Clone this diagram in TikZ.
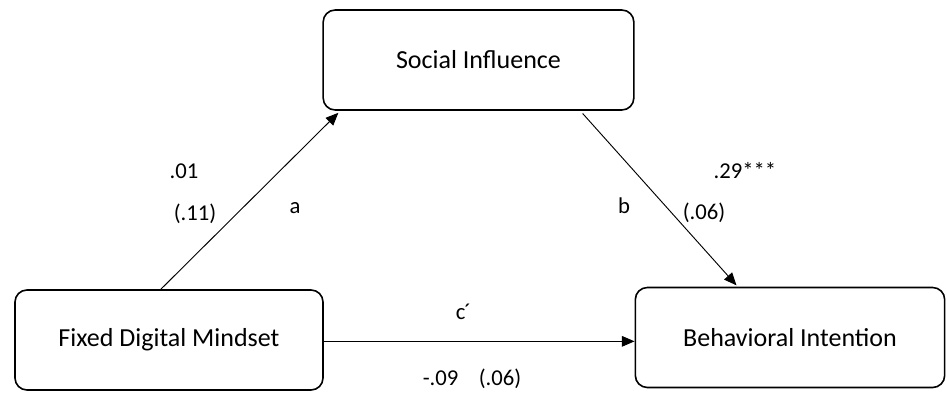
\documentclass[tikz,border=0pt]{standalone}
\usepackage{fontspec}
\setmainfont{Carlito}
\usetikzlibrary{arrows.meta}
\begin{document}
\begin{tikzpicture}[x=0.75pt,y=-0.75pt,
  var/.style={draw, line width=1.2pt, rounded corners=9pt, inner sep=0pt,
    minimum height=75pt, font=\fontsize{19.5}{23}\selectfont},
  effect/.style={line width=0.7pt, -{Triangle[length=9.5pt,width=8pt]}},
  coef/.style={anchor=base, inner sep=0pt, font=\fontsize{17}{20}\selectfont}]
\useasboundingbox (0,0) rectangle (947,397);

% variables
\node[var, minimum width=233pt] (si)  at (478.5,60)  {Social Influence};
\node[var, minimum width=231pt] (fdm) at (169,340)   {Fixed Digital Mindset};
\node[var, minimum width=232pt] (bi)  at (790,337.5) {Behavioral Intention};

% paths a, b and c'
\draw[effect] ([xshift=110pt]fdm.north west) -- ([xshift=12pt,yshift=-1.5pt]si.south west);
\draw[effect] ([xshift=-39pt,yshift=-2pt]si.south east) -- ([xshift=76.5pt,yshift=1pt]bi.north west);
\draw[effect] ([yshift=-1pt]fdm.east) -- ([yshift=-1pt]fdm.east -| bi.west);

% coefficients
\node[coef] (ca1) at (184,178) {.01};
\node[coef] (ca2) at (195,220) {(.11)};
\node[coef] (la)  at (295,213) {a};
\node[coef] (cb1) at (745,178) {.29***};
\node[coef] (lb)  at (624,213) {b};
\node[coef] (cb2) at (704,219) {(.06)};
\node[coef] (lc)  at (463.5,319) {c\kern-0.05em´};
\node[coef] (cc)  at (472,385) {-.09\hspace{0.9em}(.06)};
\end{tikzpicture}
\end{document}
